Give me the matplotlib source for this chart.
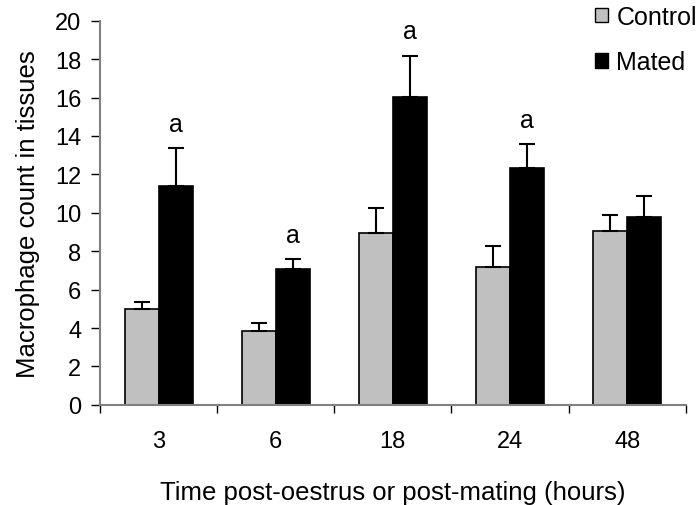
import numpy as np
import matplotlib
matplotlib.use("Agg")
import matplotlib.pyplot as plt
from matplotlib.patches import Patch

plt.rcParams['font.family'] = ['Liberation Sans', 'DejaVu Sans']

# Data
hours = ["3", "6", "18", "24", "48"]
control = [4.98, 3.85, 8.94, 7.16, 9.03]
control_err = [0.40, 0.42, 1.30, 1.12, 0.83]
mated = [11.41, 7.07, 16.01, 12.33, 9.76]
mated_err = [1.96, 0.50, 2.17, 1.25, 1.13]
signif = ["a", "a", "a", "a", ""]

fig = plt.figure(figsize=(6.99, 5.06), dpi=100)
ax = fig.add_axes([0.143, 0.198, 0.838, 0.759])

x = np.arange(len(hours))
w = 0.29

ax.bar(x - w / 2, control, w, color='#c0c0c0', edgecolor='black', linewidth=1.2, zorder=2)
ax.bar(x + w / 2, mated, w, color='black', edgecolor='black', linewidth=1.2, zorder=2)

# upper error bars only
ax.errorbar(x - w / 2, control, yerr=[np.zeros(len(control)), control_err], fmt='none',
            ecolor='black', elinewidth=1.5, capsize=5.5, capthick=1.5, zorder=3)
ax.errorbar(x + w / 2, mated, yerr=[np.zeros(len(mated)), mated_err], fmt='none',
            ecolor='black', elinewidth=1.5, capsize=5.5, capthick=1.5, zorder=3)

for i, s in enumerate(signif):
    if s:
        ax.text(x[i] + w / 2, mated[i] + mated_err[i] + 0.9, s, ha='center', va='baseline', fontsize=18)

ax.set_xlim(-0.5, len(hours) - 0.5)
ax.set_ylim(0, 20)
ax.set_yticks(np.arange(0, 21, 2))
ax.tick_params(axis='y', labelsize=17, length=6.5, width=1, direction='out', pad=7)

# ticks at the category boundaries, labels at the centres
ax.set_xticks(np.arange(-0.5, len(hours), 1.0))
ax.set_xticklabels([])
ax.set_xticks(x, minor=True)
ax.set_xticklabels(hours, minor=True)
ax.tick_params(axis='x', which='major', length=6, width=1, direction='out')
ax.tick_params(axis='x', which='minor', length=0, labelsize=17, pad=18)

for side in ['top', 'right']:
    ax.spines[side].set_visible(False)
for side in ['left', 'bottom']:
    ax.spines[side].set_color('#808080')
    ax.spines[side].set_linewidth(1.5)

ax.set_ylabel("Macrophage count in tissues", fontsize=18.5, labelpad=11)
ax.set_xlabel("Time post-oestrus or post-mating (hours)", fontsize=18.5, labelpad=20)

handles = [Patch(facecolor='#c0c0c0', edgecolor='black', label='Control'),
           Patch(facecolor='black', edgecolor='black', label='Mated')]
fig.legend(handles=handles, loc='upper left', bbox_to_anchor=(595 / 699, 0.988), frameon=False,
           fontsize=18, handlelength=0.5, handleheight=0.5, handletextpad=0.35,
           labelspacing=0.85, borderpad=0, borderaxespad=0)

fig.savefig("out.png", dpi=100)
